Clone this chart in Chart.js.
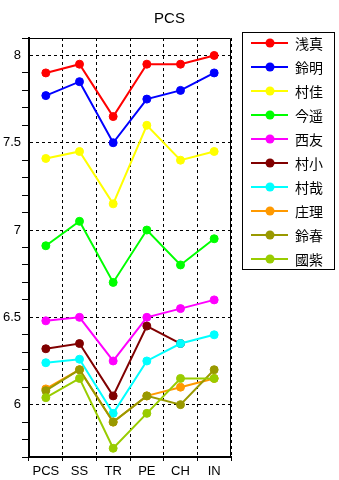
<!DOCTYPE html>
<html>
<head>
<meta charset="utf-8">
<script src="https://cdn.jsdelivr.net/npm/chart.js@4"></script>
<style>
  body { margin: 0; background: #fff; }
  #wrap { width: 339px; height: 480px; position: relative; }
</style>
</head>
<body>
<div id="wrap"><canvas id="pcsChart"></canvas></div>
<script>
const categories = ['PCS', 'SS', 'TR', 'PE', 'CH', 'IN'];
const seriesNames = ['浅真', '鈴明', '村佳', '今遥', '西友', '村小', '村哉', '庄理', '鈴春', '國紫'];
const seriesColors = ['#ff0000', '#0000ff', '#ffff00', '#00ff00', '#ff00ff', '#800000', '#00ffff', '#ff9900', '#999900', '#99cc00'];

const asamaValues = [7.90, 7.95, 7.65, 7.95, 7.95, 8.00];
const suzuakiValues = [7.77, 7.85, 7.50, 7.75, 7.80, 7.90];
const murakaValues = [7.41, 7.45, 7.15, 7.60, 7.40, 7.45];
const imaharuValues = [6.91, 7.05, 6.70, 7.00, 6.80, 6.95];
const nishitomoValues = [6.48, 6.50, 6.25, 6.50, 6.55, 6.60];
const murakoValues = [6.32, 6.35, 6.05, 6.45, 6.35, null];
const murayaValues = [6.24, 6.26, 5.95, 6.25, 6.35, 6.40];
const shoriValues = [6.09, 6.20, 5.90, 6.05, 6.10, 6.15];
const suzuharuValues = [6.08, 6.20, 5.90, 6.05, 6.00, 6.20];
const kokushiValues = [6.04, 6.15, 5.75, 5.95, 6.15, 6.15];

const allValues = [asamaValues, suzuakiValues, murakaValues, imaharuValues, nishitomoValues,
    murakoValues, murayaValues, shoriValues, suzuharuValues, kokushiValues];

const datasets = allValues.map((values, i) => ({
    label: seriesNames[i],
    data: values,
    borderColor: seriesColors[i],
    backgroundColor: seriesColors[i],
    pointBackgroundColor: seriesColors[i],
    pointBorderColor: seriesColors[i],
    borderWidth: 2,
    pointRadius: 4,
    pointBorderWidth: 1,
    tension: 0,
    order: -i // later series on top
}));

function isMajor(v) {
    return Math.abs(v * 2 - Math.round(v * 2)) < 1e-6;
}

// frame on top/right of the plot + legend box on the right
const framePlugin = {
    id: 'frameAndLegend',
    afterDraw(chart) {
        const ctx = chart.ctx;
        const a = chart.chartArea;
        ctx.save();
        ctx.strokeStyle = '#000';
        ctx.lineWidth = 1;
        ctx.beginPath();
        ctx.moveTo(a.left, a.top + 0.5);
        ctx.lineTo(a.right - 0.5, a.top + 0.5);
        ctx.lineTo(a.right - 0.5, a.bottom);
        ctx.stroke();

        const boxLeft = a.right + 11;
        const boxTop = 32;
        ctx.strokeRect(boxLeft + 0.5, boxTop + 0.5, 92, 237);

        ctx.font = '14px "Noto Sans CJK JP"';
        ctx.textBaseline = 'middle';
        ctx.textAlign = 'left';
        chart.data.datasets.forEach((ds, i) => {
            const y = boxTop + 11 + i * 24;
            ctx.strokeStyle = ds.borderColor;
            ctx.lineWidth = 2;
            ctx.beginPath();
            ctx.moveTo(boxLeft + 9, y);
            ctx.lineTo(boxLeft + 46, y);
            ctx.stroke();
            ctx.fillStyle = ds.borderColor;
            ctx.beginPath();
            ctx.arc(boxLeft + 28, y, 4.5, 0, Math.PI * 2);
            ctx.fill();
            ctx.fillStyle = '#000';
            ctx.fillText(ds.label, boxLeft + 53, y + 1);
        });
        ctx.restore();
    }
};

Chart.defaults.color = '#000';
Chart.defaults.font.family = 'Arial, "Liberation Sans", sans-serif';

const ctx = document.getElementById('pcsChart').getContext('2d');
new Chart(ctx, {
    type: 'line',
    data: {
        labels: categories,
        datasets: datasets
    },
    options: {
        responsive: true,
        maintainAspectRatio: false,
        animation: false,
        layout: { padding: 0 },
        plugins: {
            legend: { display: false },
            tooltip: { enabled: false },
            title: {
                display: true,
                text: 'PCS',
                color: '#000',
                font: { size: 15, weight: 'normal' },
                padding: { top: 10, bottom: 10 }
            }
        },
        scales: {
            x: {
                type: 'category',
                offset: true,
                grid: {
                    offset: true,
                    color: '#000',
                    tickColor: '#000',
                    tickLength: 4,
                    lineWidth: 1
                },
                border: { display: true, color: '#000', width: 2, dash: [3, 3] },
                ticks: { font: { size: 13 }, padding: 3, maxRotation: 0 },
                afterFit: (scale) => { scale.height = 23; }
            },
            y: {
                position: 'left',
                min: 5.7,
                max: 8.1,
                ticks: {
                    stepSize: 0.1,
                    autoSkip: false,
                    padding: 1,
                    font: { size: 13 },
                    callback: (v) => isMajor(v) ? String(Number(v.toFixed(1))) : ''
                },
                grid: {
                    color: (c) => isMajor(c.tick.value) ? '#000' : 'rgba(0,0,0,0)',
                    tickColor: (c) => isMajor(c.tick.value) ? 'rgba(0,0,0,0)' : '#000',
                    tickLength: 7,
                    lineWidth: 1
                },
                border: { display: true, color: '#000', width: 2, dash: [3, 3] },
                afterFit: (scale) => { scale.width = 29; }
            },
            legendSpace: {
                type: 'linear',
                position: 'right',
                display: true,
                grid: { display: false },
                ticks: { display: false },
                border: { display: false },
                afterFit: (scale) => { scale.width = 108; }
            }
        }
    },
    plugins: [framePlugin]
});
</script>
</body>
</html>
